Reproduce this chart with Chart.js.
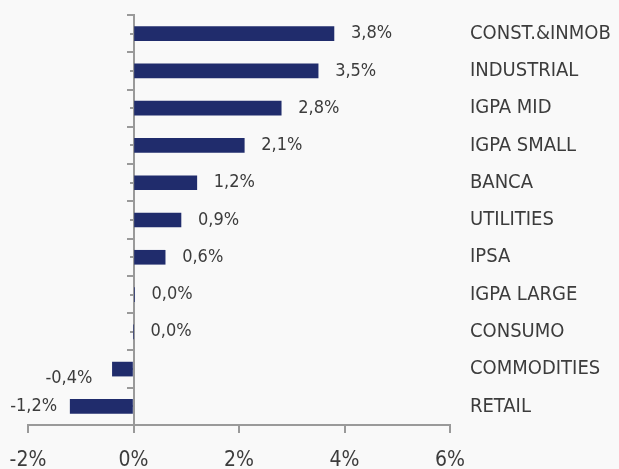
<!DOCTYPE html>
<html lang="es">

<head>
    <meta charset="UTF-8">
    <title>Retorno sectorial</title>
    <script src="https://cdn.jsdelivr.net/npm/chart.js"></script>
    <style>
        body { margin: 0; background: #f9f9f9; }
        canvas { display: block; }
    </style>
</head>

<body>
    <canvas id="sectorChart" width="619" height="469"></canvas>

    <script>
        // categorias y retornos (%)
        const sectors = ['CONST.&INMOB', 'INDUSTRIAL', 'IGPA MID', 'IGPA SMALL', 'BANCA', 'UTILITIES',
            'IPSA', 'IGPA LARGE', 'CONSUMO', 'COMMODITIES', 'RETAIL'];
        const returns = [3.8, 3.5, 2.8, 2.1, 1.2, 0.9, 0.6, 0.02, 0.0, -0.4, -1.2];
        const xTicks = [-2, 0, 2, 4, 6];

        const axisColor = '#9a9a9a';
        const textColor = '#3c3c3c';
        const fontFamily = '"DejaVu Sans Condensed", "DejaVu Sans", sans-serif';

        // etiquetas de valor junto a cada barra
        const valueLabels = {
            id: 'valueLabels',
            afterDatasetsDraw(chart) {
                const ctx = chart.ctx;
                const meta = chart.getDatasetMeta(0);
                ctx.save();
                ctx.font = '18px ' + fontFamily;
                ctx.fillStyle = textColor;
                ctx.textBaseline = 'middle';
                meta.data.forEach((bar, i) => {
                    const v = returns[i];
                    const txt = v.toFixed(1).replace('.', ',') + '%';
                    if (v < 0) {
                        ctx.textAlign = 'right';
                        const dy = v > -1 ? 9 : 0; // se corre hacia abajo cuando es corta
                        ctx.fillText(txt, bar.x - (v > -1 ? 20 : 13), bar.y + dy);
                    } else {
                        ctx.textAlign = 'left';
                        ctx.fillText(txt, Math.max(bar.x, bar.base) + 17, bar.y);
                    }
                });
                ctx.restore();
            }
        };

        // el eje vertical va sobre el 0, no debe ocupar espacio
        const flatAxis = scale => { scale.width = 0; scale.paddingTop = 0; scale.paddingBottom = 0; };

        const ctx = document.getElementById('sectorChart').getContext('2d');
        new Chart(ctx, {
            type: 'bar',
            data: {
                labels: sectors,
                datasets: [{
                    data: returns,
                    backgroundColor: '#202c6c',
                    borderWidth: 0,
                    barThickness: 14,
                    xAxisID: 'x',
                    yAxisID: 'y'
                }]
            },
            options: {
                indexAxis: 'y',
                responsive: false,
                animation: false,
                layout: { padding: { top: 15, left: 28, right: 0, bottom: 0 } },
                plugins: {
                    legend: { display: false },
                    tooltip: { enabled: false }
                },
                scales: {
                    x: {
                        type: 'linear',
                        min: -2,
                        max: 6,
                        afterBuildTicks: scale => { scale.ticks = xTicks.map(v => ({ value: v })); },
                        afterFit: scale => { scale.height = 44; scale.paddingLeft = 0; scale.paddingRight = 0; },
                        ticks: {
                            callback: v => v + '%',
                            color: textColor,
                            font: { family: fontFamily, size: 21 },
                            padding: 15,
                            maxRotation: 0
                        },
                        grid: {
                            drawOnChartArea: false,
                            drawTicks: true,
                            tickLength: 8,
                            color: axisColor,
                            lineWidth: 2
                        },
                        border: { display: true, color: axisColor, width: 2 }
                    },
                    y: {
                        type: 'category',
                        position: { x: 0 },
                        offset: true,
                        afterFit: flatAxis,
                        ticks: { display: false },
                        grid: {
                            offset: true,
                            drawOnChartArea: false,
                            drawTicks: true,
                            tickLength: 6,
                            color: axisColor,
                            lineWidth: 2
                        },
                        border: { display: true, color: axisColor, width: 2 }
                    },
                    yMinor: {
                        type: 'category',
                        axis: 'y',
                        position: { x: 0 },
                        offset: true,
                        afterFit: flatAxis,
                        ticks: { display: false },
                        grid: {
                            offset: false,
                            drawOnChartArea: false,
                            drawTicks: true,
                            tickLength: 4,
                            color: axisColor,
                            lineWidth: 2
                        },
                        border: { display: false }
                    },
                    yNames: {
                        type: 'category',
                        axis: 'y',
                        position: 'right',
                        offset: true,
                        ticks: {
                            color: textColor,
                            font: { family: fontFamily, size: 20 },
                            padding: 20
                        },
                        grid: { display: false, drawTicks: false },
                        border: { display: false },
                        afterFit: scale => { scale.width = 169; scale.paddingTop = 0; scale.paddingBottom = 0; }
                    }
                }
            },
            plugins: [valueLabels]
        });
    </script>
</body>

</html>
